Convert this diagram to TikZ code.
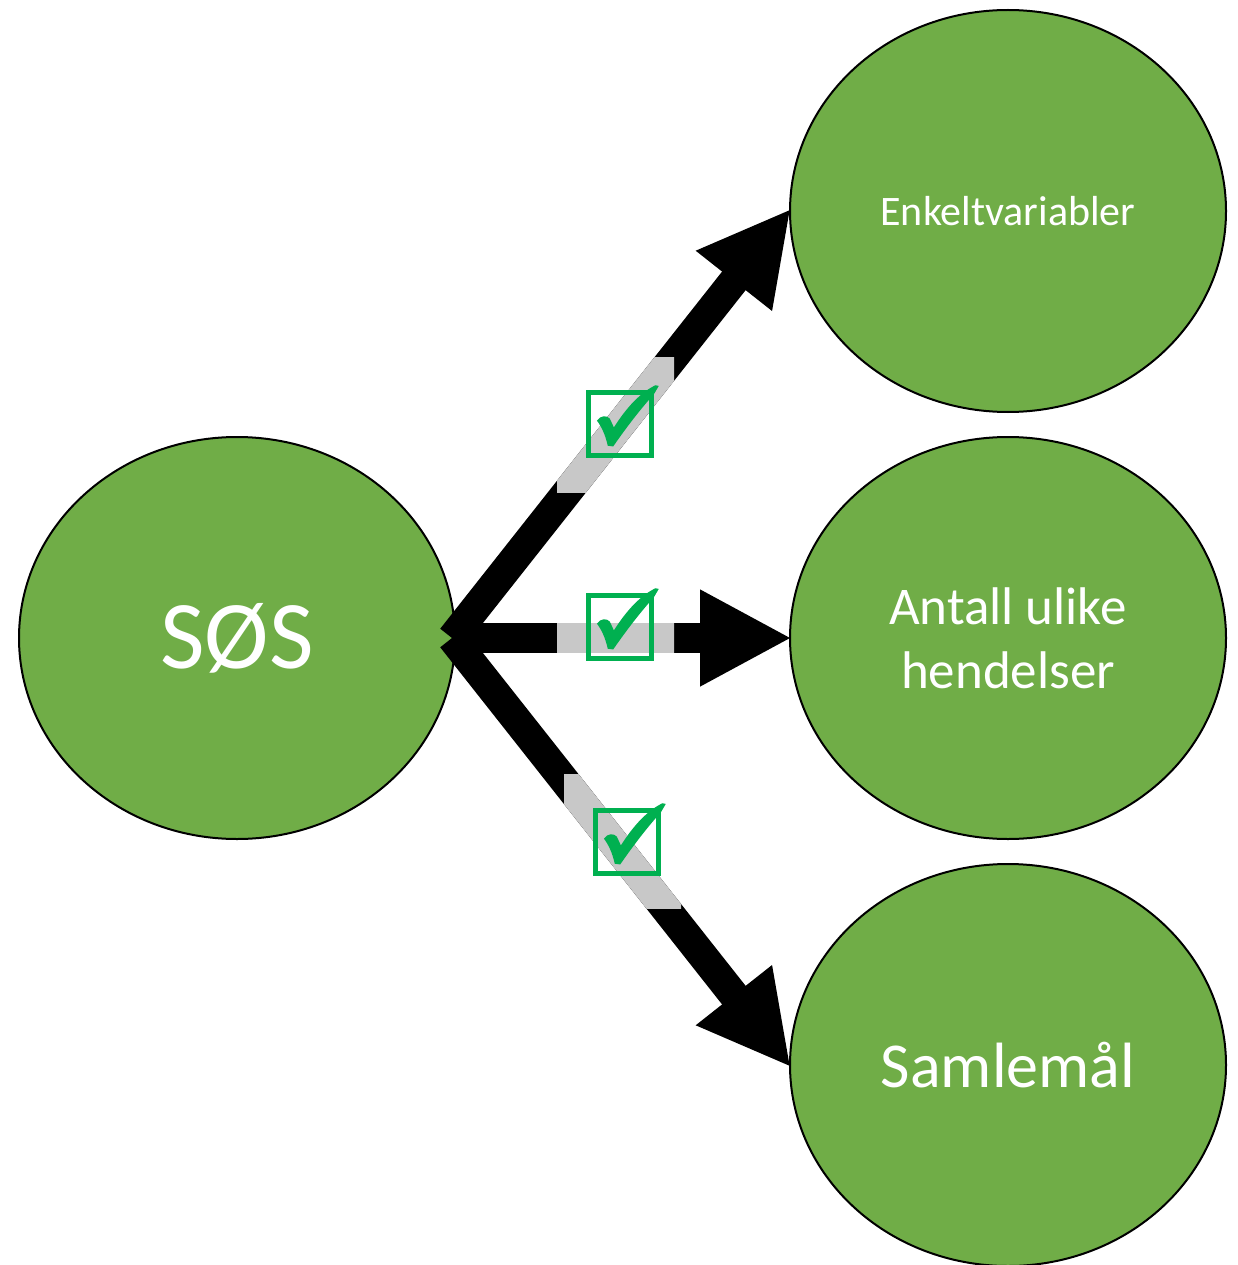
\documentclass[tikz,border=0pt]{standalone}
\usepackage{fontspec}
\setmainfont{Carlito}
\usetikzlibrary{shapes.geometric,arrows.meta}
\definecolor{nodegreen}{HTML}{70AD47}
\definecolor{chkgreen}{HTML}{00B050}
\definecolor{hlgray}{HTML}{C8C8C8}
\begin{document}
\begin{tikzpicture}[x=1pt,y=-1pt,
  bubble/.style={ellipse, draw=black, line width=2pt, fill=nodegreen, minimum width=436pt, minimum height=402pt, inner sep=0pt, text=white, align=center},
  fat/.style={line width=30pt, line join=miter},
  fatarrow/.style={fat, shorten >=-3pt, -{Triangle[length=92pt,width=90pt]}},
  chkbox/.style={draw=chkgreen, line width=5.5pt, minimum size=63pt, inner sep=0pt},
  tick/.pic={\fill[chkgreen] (-0.34,-0.05) .. controls (-0.28,-0.13) and (-0.2,-0.13) .. (-0.15,-0.08) -- (-0.09,0.05) .. controls (0.1,-0.25) and (0.3,-0.46) .. (0.52,-0.57) -- (0.57,-0.56) -- (0.5,-0.44) .. controls (0.25,-0.16) and (0.06,0.1) .. (-0.1,0.33) -- (-0.18,0.32) .. controls (-0.22,0.14) and (-0.28,0.03) .. cycle;}]
\useasboundingbox (0,0) rectangle (1238,1265);

\node[bubble, font=\fontsize{97}{110}\selectfont] (sos) at (237,638) {SØS};
\node[bubble, font=\fontsize{42}{50}\selectfont] (e1) at (1008,211) {Enkeltvariabler};
\node[bubble, font=\fontsize{53}{64}\selectfont] (e2) at (1008,638) {Antall ulike\\hendelser};
\node[bubble, font=\fontsize{64}{76}\selectfont] (e3) at (1008,1065) {Samlemål};

\coordinate (s) at ([xshift=-4pt]sos.east);
\draw[fatarrow] (s) -- (e1.west);
\draw[fatarrow] (s) -- (e2.west);
\draw[fatarrow] (s) -- (e3.west);

\begin{scope}
  \clip (557,357) rectangle (674,492);
  \draw[fat, hlgray] (s) -- (e1.west);
\end{scope}
\begin{scope}
  \clip (557,600) rectangle (674,680);
  \draw[fat, hlgray] (s) -- (e2.west);
\end{scope}
\begin{scope}
  \clip (564,774) rectangle (681,908);
  \draw[fat, hlgray] (s) -- (e3.west);
\end{scope}

\node[chkbox] (c1) at (620,424) {};
\node[chkbox] (c2) at (620,627) {};
\node[chkbox] (c3) at (627,842) {};
\pic[scale=68] at (c1) {tick};
\pic[scale=68] at (c2) {tick};
\pic[scale=68] at (c3) {tick};
\end{tikzpicture}
\end{document}
